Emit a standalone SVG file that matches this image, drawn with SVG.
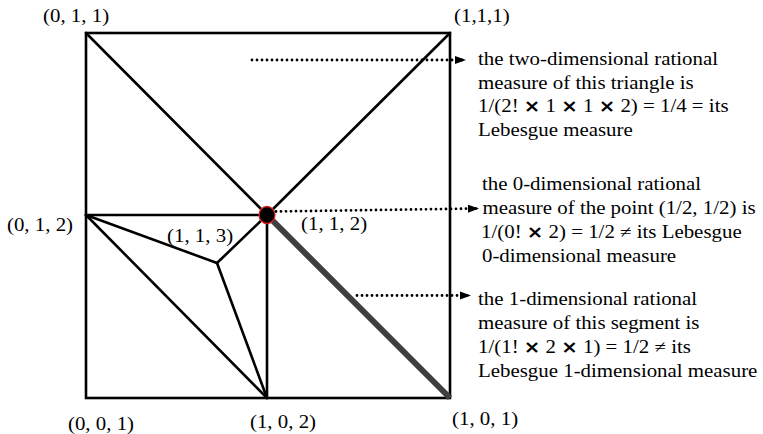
<svg xmlns="http://www.w3.org/2000/svg" width="763" height="434" viewBox="0 0 763 434">
<style>
.ln{stroke:#000;stroke-width:2.6;fill:none;stroke-linecap:round}
.dot{stroke:#000;stroke-width:2.8;fill:none;stroke-linecap:round;stroke-dasharray:0 5}
.t{font-family:"Liberation Serif","Times New Roman",serif;font-size:18px;fill:#000}
.x{font-family:"DejaVu Sans","Liberation Sans",sans-serif;font-size:17px;font-weight:bold}
</style>
<defs>
<marker id="ah" markerWidth="12" markerHeight="10" refX="11" refY="5" orient="auto" markerUnits="userSpaceOnUse">
<path d="M0,1 L11,5 L0,9 Z" fill="#000"/>
</marker>
</defs>
<rect width="763" height="434" fill="#fff"/>
<g id="square">
<rect x="86" y="33" width="364" height="365" class="ln"/>
</g>
<g id="edges">
<line class="ln" x1="86" y1="33" x2="267" y2="215"/>
<line class="ln" x1="450" y1="33" x2="267" y2="215"/>
<line class="ln" x1="86" y1="215" x2="267" y2="215"/>
<line class="ln" x1="267" y1="215" x2="267" y2="398"/>
<line class="ln" x1="86" y1="215" x2="267" y2="398"/>
<line class="ln" x1="86" y1="215" x2="217" y2="263"/>
<line class="ln" x1="217" y1="263" x2="267" y2="215"/>
<line class="ln" x1="217" y1="263" x2="267" y2="398"/>
<line x1="267" y1="215" x2="450" y2="398" stroke="#3f3f3f" stroke-width="6"/>
</g>
<g id="point">
<ellipse cx="267" cy="215" rx="8" ry="8.5" fill="#000" stroke="#e02020" stroke-width="1.3"/>
</g>
<g id="connectors">
<line class="dot" x1="252" y1="60" x2="466" y2="60" marker-end="url(#ah)"/>
<line class="dot" x1="276" y1="211.5" x2="479" y2="208.5" marker-end="url(#ah)"/>
<line class="dot" x1="357" y1="295.5" x2="471" y2="295.5" marker-end="url(#ah)"/>
</g>
<g transform="scale(1.16 1)" class="t">
<g id="labels">
<text x="37.1" y="22">(0, 1, 1)</text>
<text x="391.4" y="22">(1,1,1)</text>
<text x="6" y="231">(0, 1, 2)</text>
<text x="144" y="242">(1, 1, 3)</text>
<text x="259.5" y="230">(1, 1, 2)</text>
<text x="58.6" y="430">(0, 0, 1)</text>
<text x="215.5" y="428">(1, 0, 2)</text>
<text x="389.7" y="425">(1, 0, 1)</text>
</g>
<g id="note1">
<text x="412.1" y="65">the two-dimensional rational</text>
<text x="412.1" y="89">measure of this triangle is</text>
<text x="412.1" y="112">1/(2! <tspan class="x">×</tspan> 1 <tspan class="x">×</tspan> 1 <tspan class="x">×</tspan> 2) = 1/4 = its</text>
<text x="412.1" y="136">Lebesgue measure</text>
</g>
<g id="note2">
<text x="415.5" y="190">the 0-dimensional rational</text>
<text x="416" y="214">measure of the point (1/2, 1/2) is</text>
<text x="414.7" y="238">1/(0! <tspan class="x">×</tspan> 2) = 1/2 ≠  its Lebesgue</text>
<text x="415.5" y="262">0-dimensional measure</text>
</g>
<g id="note3">
<text x="412.1" y="305">the 1-dimensional rational</text>
<text x="412.1" y="329">measure of this segment is</text>
<text x="412.1" y="353">1/(1! <tspan class="x">×</tspan> 2 <tspan class="x">×</tspan> 1) = 1/2 ≠ its</text>
<text x="412.1" y="377">Lebesgue 1-dimensional measure</text>
</g>
</g>
</svg>
